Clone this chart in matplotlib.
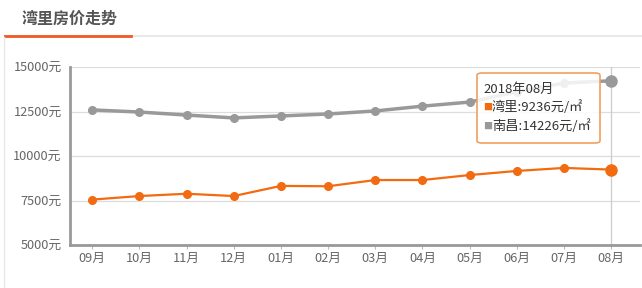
import matplotlib
matplotlib.use('Agg')
import matplotlib.pyplot as plt
from matplotlib.patches import FancyBboxPatch
from matplotlib.lines import Line2D

plt.rcParams['font.family'] = ['Noto Sans CJK SC', 'DejaVu Sans']

months = ['09月', '10月', '11月', '12月', '01月', '02月', '03月', '04月', '05月', '06月', '07月', '08月']
wanli = [7550, 7750, 7880, 7750, 8320, 8300, 8650, 8650, 8930, 9160, 9330, 9236]
nanchang = [12590, 12470, 12300, 12140, 12250, 12360, 12530, 12800, 13030, 13600, 14100, 14226]
yticks = [5000, 7500, 10000, 12500, 15000]

orange = '#f26b11'
gray = '#999999'

fig = plt.figure(figsize=(6.42, 2.88), dpi=100)

# header: title + underline
fig.text(22 / 642, 1 - 19 / 288, '湾里房价走势', fontsize=11.5, fontweight='bold',
         color='#555555', va='center', ha='left')
fig.add_artist(Line2D([5 / 642, 1], [1 - 36 / 288] * 2, color='#e5e5e5', lw=1.2))
fig.add_artist(Line2D([5 / 642, 131 / 642], [1 - 36 / 288] * 2, color='#ee5a24', lw=2))
fig.add_artist(Line2D([4 / 642] * 2, [0, 1 - 37 / 288], color='#e8e8e8', lw=1))

ax = fig.add_axes([70 / 642, 1 - 245 / 288, 570 / 642, 178 / 288])
x = list(range(len(months)))

ax.set_xlim(-0.47, 11.61)
ax.set_ylim(5000, 15000)
ax.set_yticks(yticks)
ax.set_yticklabels([f'{v}元' for v in yticks])
ax.set_xticks(x)
ax.set_xticklabels(months)
ax.tick_params(axis='both', labelsize=9.2, colors='#666666', length=0)
ax.tick_params(axis='y', pad=6)
ax.tick_params(axis='x', length=3, color='#bbbbbb', pad=2)
ax.grid(axis='y', color='#dddddd', lw=0.9)
ax.set_axisbelow(True)
for s in ['top', 'right']:
    ax.spines[s].set_visible(False)
for s in ['left', 'bottom']:
    ax.spines[s].set_color('#999999')
    ax.spines[s].set_linewidth(2)

# crosshair at hovered month
ax.axvline(x[-1], color='#cccccc', lw=0.9, zorder=1)

ax.plot(x, nanchang, color=gray, lw=2.5, marker='o', ms=5.5, zorder=3)
ax.plot(x, wanli, color=orange, lw=1.6, marker='o', ms=5.5, zorder=3)
ax.plot(x[-1], nanchang[-1], 'o', color=gray, ms=8, zorder=4)
ax.plot(x[-1], wanli[-1], 'o', color=orange, ms=8, zorder=4)

# tooltip
tx0, ty0, tw, th = 477 / 642, 1 - 143 / 288, 123 / 642, 70 / 288
box = FancyBboxPatch((tx0, ty0), tw, th, boxstyle='round,pad=0,rounding_size=0.008',
                     transform=fig.transFigure, fc=(1, 1, 1, 0.85), ec='#f0a060', lw=1.2,
                     zorder=10)
fig.add_artist(box)
fig.text(483 / 642, 1 - 89 / 288, '2018年08月', fontsize=9.5, color='#333333',
         va='center', zorder=11)
fig.text(483 / 642, 1 - 107 / 288, '■', fontsize=6.5, color=orange, va='center', zorder=11)
fig.text(492 / 642, 1 - 107 / 288, f'湾里:{wanli[-1]}元/㎡', fontsize=9.5, color='#333333',
         va='center', zorder=11)
fig.text(483 / 642, 1 - 126 / 288, '■', fontsize=6.5, color=gray, va='center', zorder=11)
fig.text(492 / 642, 1 - 126 / 288, f'南昌:{nanchang[-1]}元/㎡', fontsize=9.5, color='#333333',
         va='center', zorder=11)

fig.savefig('out.png', dpi=100)
